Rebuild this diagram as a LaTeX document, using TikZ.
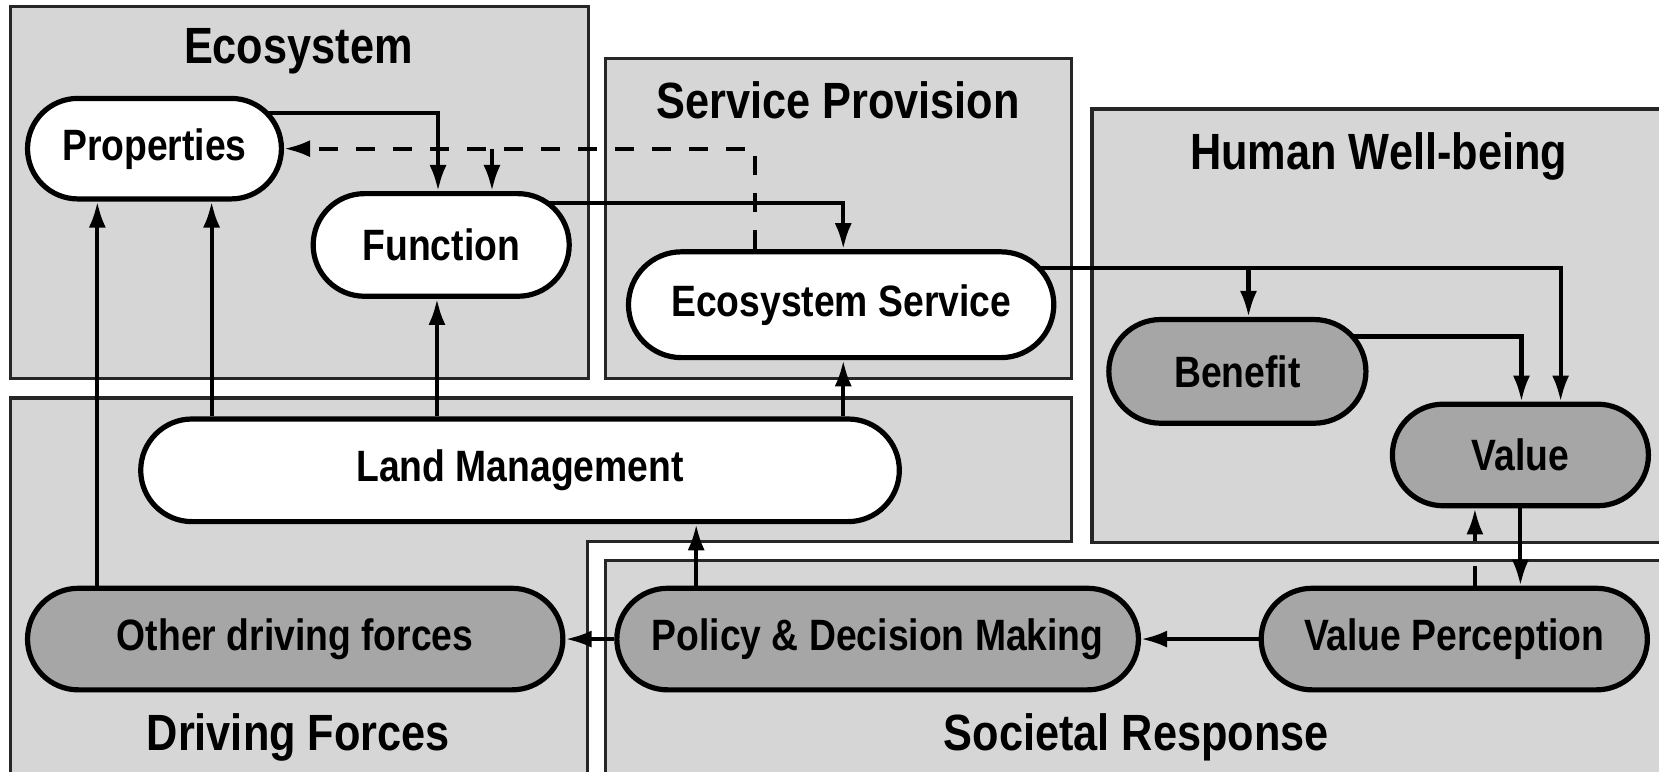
\documentclass[tikz,border=0pt]{standalone}
\usepackage{fontspec}
\setmainfont{Liberation Sans}[FakeStretch=0.85]
\usetikzlibrary{arrows.meta,shapes.misc}
\pgfdeclarelayer{panels}
\pgfdeclarelayer{links}
\pgfsetlayers{panels,links,main}
\definecolor{panelgray}{gray}{0.84}
\definecolor{nodegray}{gray}{0.65}
\tikzset{
  stage/.style={rounded rectangle, draw=black, line width=1.4pt, fill=white, inner sep=0pt,
    font=\fontsize{11.8}{13}\selectfont\bfseries},
  graystage/.style={stage, fill=nodegray},
  panel/.style={draw=black!85, line width=0.9pt, fill=panelgray},
  title/.style={font=\fontsize{13.7}{15}\selectfont\bfseries},
  link/.style={line width=1.1pt, -{Latex[length=7pt,width=4.6pt]}},
  feedback/.style={link, dash pattern=on 0.18cm off 0.17cm},
}
\begin{document}
\begin{tikzpicture}
		\useasboundingbox (0,0) rectangle (15.68,7.29);
		
		% panels
		\begin{pgfonlayer}{panels}
			\draw[panel] (0.10,3.71) rectangle (5.56,7.23);
			\draw[panel] (5.72,3.71) rectangle (10.13,6.74);
			\draw[panel] (10.32,2.16) rectangle (15.90,6.26);
			\draw[panel] (0.10,-0.2) -- (0.10,3.53) -- (10.13,3.53) -- (10.13,2.17) -- (5.55,2.17) -- (5.55,-0.2) -- cycle;
			\draw[panel] (5.72,-0.2) rectangle (15.90,1.99);
		\end{pgfonlayer}
		
		\node[title] (ecotitle) at (2.82,6.81) {Ecosystem};
		\node[title] (provtitle) at (7.92,6.34) {Service Provision};
		\node[title] (welltitle) at (13.03,5.81) {Human Well-being};
		\node[title] (drivetitle) at (2.82,0.32) {Driving Forces};
		\node[title] (resptitle) at (10.74,0.32) {Societal Response};
		
		% stages
		\node[stage, minimum width=2.40cm, minimum height=0.95cm] (prop) at (1.46,5.885) {Properties};
		\node[stage, minimum width=2.42cm, minimum height=0.97cm] (func) at (4.17,4.975) {Function};
		\node[stage, minimum width=4.02cm, minimum height=1.00cm] (eserv) at (7.95,4.41) {Ecosystem Service};
		\node[stage, minimum width=7.17cm, minimum height=0.97cm] (landman) at (4.915,2.845) {Land Management};
		
		\node[graystage, minimum width=2.43cm, minimum height=0.98cm] (benefit) at (11.695,3.78) {Benefit};
		\node[graystage, minimum width=2.42cm, minimum height=0.96cm] (value) at (14.37,2.99) {Value};
		\node[graystage, minimum width=5.06cm, minimum height=0.96cm] (otherdf) at (2.79,1.25) {Other driving forces};
		\node[graystage, minimum width=4.93cm, minimum height=0.96cm] (policy) at (8.295,1.25) {Policy \& Decision Making};
		\node[graystage, minimum width=3.65cm, minimum height=0.96cm] (valperc) at (13.745,1.25) {Value Perception};
		
		\coordinate (benefitfork) at (11.80,4.76);
		\coordinate (dashfork) at (4.65,5.885);
		
		% connectors
		\begin{pgfonlayer}{links}
			\draw[link] ([yshift=3.35mm]prop.center) -| (4.14,0 |- func.north);
			\draw[link] ([yshift=3.95mm]func.center) -| (7.97,0 |- eserv.north);
			\draw[link] ([yshift=3.5mm]eserv.center) -| (14.75,0 |- value.north);
			\draw[link] (benefitfork) -- (benefitfork |- benefit.north);
			\draw[link] ([yshift=3.3mm]benefit.center) -| (14.38,0 |- value.north);
			
			\draw[link] (0.92,0 |- otherdf.north) -- (0.92,0 |- prop.south);
			\draw[link] (2.00,0 |- landman.north) -- (2.00,0 |- prop.south);
			\draw[link] (4.13,0 |- landman.north) -- (4.13,0 |- func.south);
			\draw[link] (7.97,0 |- landman.north) -- (7.97,0 |- eserv.south);
			\draw[link] (6.58,0 |- policy.north) -- (6.58,0 |- landman.south);
			
			\draw[link] (policy.west) -- (otherdf.east);
			\draw[link] (valperc.west) -- (policy.east);
			\draw[link] (14.37,0 |- value.south) -- (14.37,0 |- valperc.north);
			\draw[link, dash pattern=on 0.19cm off 0.23cm on 2cm] (13.94,0 |- valperc.north) -- (13.94,0 |- value.south);
			
			\draw[feedback] (7.14,0 |- eserv.north) |- (prop.east);
			\draw[link] (dashfork) -- (dashfork |- func.north);
		\end{pgfonlayer}
\end{tikzpicture}
\end{document}
